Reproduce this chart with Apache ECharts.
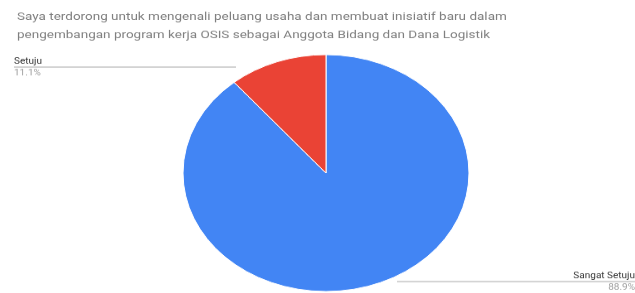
<!DOCTYPE html>
<html>
<head>
<meta charset="utf-8">
<script src="https://cdn.jsdelivr.net/npm/echarts@6/dist/echarts.min.js"></script>
<style>
  html, body { margin: 0; padding: 0; background: #fff; overflow: hidden; }
  #chart { width: 635px; height: 354px; transform: scaleY(0.828); transform-origin: 0 0; }
</style>
</head>
<body>
<div id="chart"></div>
<script>
const categories = ["Sangat Setuju", "Setuju"];
const values = [88.9, 11.1];
const colors = ["#4285f4", "#ea4335"];
const titleText = "Saya terdorong untuk mengenali peluang usaha dan membuat inisiatif baru dalam\npengembangan program kerja OSIS sebagai Anggota Bidang dan Dana Logistik";

const chart = echarts.init(document.getElementById("chart"));

// where each label sits (unscaled coords) and where its line starts on the pie
const labelSpots = {
    "Setuju": { x: 14, y: 81, align: "left", from: [236, 81], to: [14, 81] },
    "Sangat Setuju": { x: 635, y: 340, align: "right", from: [397, 340], to: [635, 340] }
};

const option = {
    animation: false,
    title: {
        text: titleText,
        left: 12,
        top: 5,
        textStyle: {
            fontFamily: "Roboto",
            fontSize: 13.5,
            fontWeight: "normal",
            color: "#808080",
            lineHeight: 22
        }
    },
    series: [
        {
            type: "pie",
            center: [326, 209],
            radius: 143,
            startAngle: 90,
            clockwise: true,
            data: categories.map((name, i) => ({
                name: name,
                value: values[i],
                itemStyle: { color: colors[i] }
            })),
            itemStyle: { borderColor: "#fff", borderWidth: 1 },
            label: {
                show: true,
                formatter: "{n|{b}}\n{p|{d}%}",
                rich: {
                    n: { fontFamily: "Roboto", fontSize: 10, color: "#333", lineHeight: 14 },
                    p: { fontFamily: "Roboto", fontSize: 10, color: "#a0a0a0", lineHeight: 14 }
                }
            },
            labelLine: {
                show: true,
                lineStyle: { color: "#a8a8a8", width: 1 }
            },
            labelLayout: function (params) {
                const name = categories[params.dataIndex];
                const s = labelSpots[name];
                return {
                    x: s.x,
                    y: s.y,
                    align: s.align,
                    verticalAlign: "middle",
                    labelLinePoints: [s.from, s.from, s.to]
                };
            }
        }
    ]
};
chart.setOption(option);
</script>
</body>
</html>
